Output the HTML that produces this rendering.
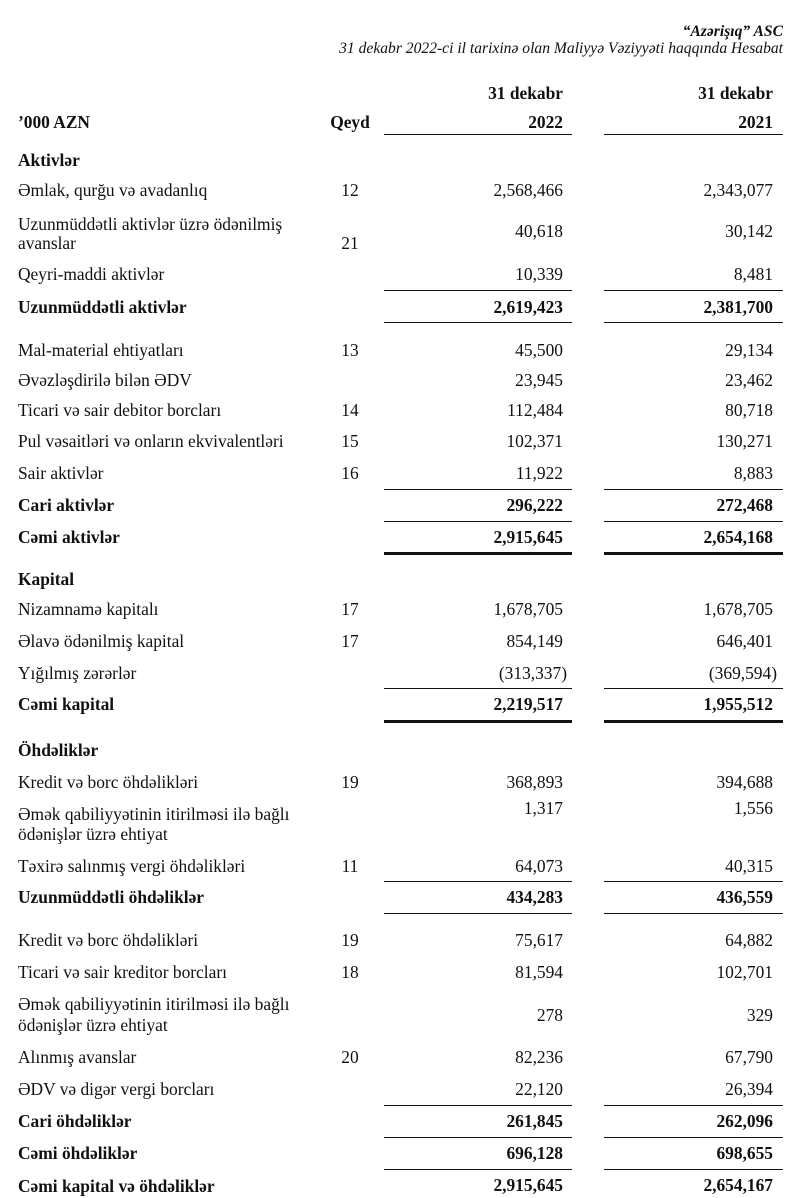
<!DOCTYPE html>
<html><head><meta charset="utf-8"><style>
body{margin:0;width:800px;height:1198px;background:#fff;position:relative;overflow:hidden;font-family:"Liberation Serif",serif;font-size:17.4px;color:#111}
.t{position:absolute;line-height:18px;white-space:nowrap}
.l{left:18px}
.n{left:320px;width:60px;text-align:center}
.a{right:237px;text-align:right}
.b{right:27px;text-align:right}
.bo{font-weight:bold}
.h{position:absolute;height:1.4px;background:#111}
.c1{left:384px;width:188px}
.c2{left:604px;width:179px}
i{font-style:italic}
</style></head><body>
<div class="t" style="right:17px;top:23px;font-size:15.6px"><i><b>“Azərişıq” ASC</b></i></div>
<div class="t" style="right:17px;top:40px;font-size:15.6px"><i>31 dekabr 2022-ci il tarixinə olan Maliyyə Vəziyyəti haqqında Hesabat</i></div>

<div class="t bo a" style="top:84px">31 dekabr</div>
<div class="t bo b" style="top:84px">31 dekabr</div>
<div class="t bo l" style="top:113px">’000 AZN</div>
<div class="t bo n" style="top:113px">Qeyd</div>
<div class="t bo a" style="top:113px">2022</div>
<div class="t bo b" style="top:113px">2021</div>
<div class="h c1" style="top:134px"></div><div class="h c2" style="top:134px"></div>

<div class="t bo l" style="top:151px">Aktivlər</div>
<div class="t l" style="top:181px">Əmlak, qurğu və avadanlıq</div><div class="t n" style="top:181px">12</div><div class="t a" style="top:181px">2,568,466</div><div class="t b" style="top:181px">2,343,077</div>
<div class="t l" style="top:215px">Uzunmüddətli aktivlər üzrə ödənilmiş</div><div class="t l" style="top:234px">avanslar</div><div class="t n" style="top:234px">21</div><div class="t a" style="top:222px">40,618</div><div class="t b" style="top:222px">30,142</div>
<div class="t l" style="top:265px">Qeyri-maddi aktivlər</div><div class="t a" style="top:265px">10,339</div><div class="t b" style="top:265px">8,481</div>
<div class="h c1" style="top:290px"></div><div class="h c2" style="top:290px"></div>
<div class="t bo l" style="top:298px">Uzunmüddətli aktivlər</div><div class="t bo a" style="top:298px">2,619,423</div><div class="t bo b" style="top:298px">2,381,700</div>
<div class="h c1" style="top:322px"></div><div class="h c2" style="top:322px"></div>

<div class="t l" style="top:341px">Mal-material ehtiyatları</div><div class="t n" style="top:341px">13</div><div class="t a" style="top:341px">45,500</div><div class="t b" style="top:341px">29,134</div>
<div class="t l" style="top:371px">Əvəzləşdirilə bilən ƏDV</div><div class="t a" style="top:371px">23,945</div><div class="t b" style="top:371px">23,462</div>
<div class="t l" style="top:401px">Ticari və sair debitor borcları</div><div class="t n" style="top:401px">14</div><div class="t a" style="top:401px">112,484</div><div class="t b" style="top:401px">80,718</div>
<div class="t l" style="top:432px">Pul vəsaitləri və onların ekvivalentləri</div><div class="t n" style="top:432px">15</div><div class="t a" style="top:432px">102,371</div><div class="t b" style="top:432px">130,271</div>
<div class="t l" style="top:464px">Sair aktivlər</div><div class="t n" style="top:464px">16</div><div class="t a" style="top:464px">11,922</div><div class="t b" style="top:464px">8,883</div>
<div class="h c1" style="top:489px"></div><div class="h c2" style="top:489px"></div>
<div class="t bo l" style="top:496px">Cari aktivlər</div><div class="t bo a" style="top:496px">296,222</div><div class="t bo b" style="top:496px">272,468</div>
<div class="h c1" style="top:521px"></div><div class="h c2" style="top:521px"></div>
<div class="t bo l" style="top:528px">Cəmi aktivlər</div><div class="t bo a" style="top:528px">2,915,645</div><div class="t bo b" style="top:528px">2,654,168</div>
<div class="h c1" style="top:552px;height:3px"></div><div class="h c2" style="top:552px;height:3px"></div>

<div class="t bo l" style="top:570px">Kapital</div>
<div class="t l" style="top:600px">Nizamnamə kapitalı</div><div class="t n" style="top:600px">17</div><div class="t a" style="top:600px">1,678,705</div><div class="t b" style="top:600px">1,678,705</div>
<div class="t l" style="top:632px">Əlavə ödənilmiş kapital</div><div class="t n" style="top:632px">17</div><div class="t a" style="top:632px">854,149</div><div class="t b" style="top:632px">646,401</div>
<div class="t l" style="top:664px">Yığılmış zərərlər</div><div class="t a" style="top:664px;right:233px">(313,337)</div><div class="t b" style="top:664px;right:23px">(369,594)</div>
<div class="h c1" style="top:688px"></div><div class="h c2" style="top:688px"></div>
<div class="t bo l" style="top:695px">Cəmi kapital</div><div class="t bo a" style="top:695px">2,219,517</div><div class="t bo b" style="top:695px">1,955,512</div>
<div class="h c1" style="top:720px;height:3px"></div><div class="h c2" style="top:720px;height:3px"></div>

<div class="t bo l" style="top:741px">Öhdəliklər</div>
<div class="t l" style="top:773px">Kredit və borc öhdəlikləri</div><div class="t n" style="top:773px">19</div><div class="t a" style="top:773px">368,893</div><div class="t b" style="top:773px">394,688</div>
<div class="t l" style="top:805px">Əmək qabiliyyətinin itirilməsi ilə bağlı</div><div class="t l" style="top:825px">ödənişlər üzrə ehtiyat</div><div class="t a" style="top:799px">1,317</div><div class="t b" style="top:799px">1,556</div>
<div class="t l" style="top:857px">Təxirə salınmış vergi öhdəlikləri</div><div class="t n" style="top:857px">11</div><div class="t a" style="top:857px">64,073</div><div class="t b" style="top:857px">40,315</div>
<div class="h c1" style="top:881px"></div><div class="h c2" style="top:881px"></div>
<div class="t bo l" style="top:888px">Uzunmüddətli öhdəliklər</div><div class="t bo a" style="top:888px">434,283</div><div class="t bo b" style="top:888px">436,559</div>
<div class="h c1" style="top:913px"></div><div class="h c2" style="top:913px"></div>

<div class="t l" style="top:931px">Kredit və borc öhdəlikləri</div><div class="t n" style="top:931px">19</div><div class="t a" style="top:931px">75,617</div><div class="t b" style="top:931px">64,882</div>
<div class="t l" style="top:963px">Ticari və sair kreditor borcları</div><div class="t n" style="top:963px">18</div><div class="t a" style="top:963px">81,594</div><div class="t b" style="top:963px">102,701</div>
<div class="t l" style="top:995px">Əmək qabiliyyətinin itirilməsi ilə bağlı</div><div class="t l" style="top:1016px">ödənişlər üzrə ehtiyat</div><div class="t a" style="top:1006px">278</div><div class="t b" style="top:1006px">329</div>
<div class="t l" style="top:1048px">Alınmış avanslar</div><div class="t n" style="top:1048px">20</div><div class="t a" style="top:1048px">82,236</div><div class="t b" style="top:1048px">67,790</div>
<div class="t l" style="top:1080px">ƏDV və digər vergi borcları</div><div class="t a" style="top:1080px">22,120</div><div class="t b" style="top:1080px">26,394</div>
<div class="h c1" style="top:1105px"></div><div class="h c2" style="top:1105px"></div>
<div class="t bo l" style="top:1112px">Cari öhdəliklər</div><div class="t bo a" style="top:1112px">261,845</div><div class="t bo b" style="top:1112px">262,096</div>
<div class="h c1" style="top:1137px"></div><div class="h c2" style="top:1137px"></div>
<div class="t bo l" style="top:1144px">Cəmi öhdəliklər</div><div class="t bo a" style="top:1144px">696,128</div><div class="t bo b" style="top:1144px">698,655</div>
<div class="h c1" style="top:1169px"></div><div class="h c2" style="top:1169px"></div>
<div class="t bo l" style="top:1177px">Cəmi kapital və öhdəliklər</div><div class="t bo a" style="top:1176px">2,915,645</div><div class="t bo b" style="top:1176px">2,654,167</div>
</body></html>
